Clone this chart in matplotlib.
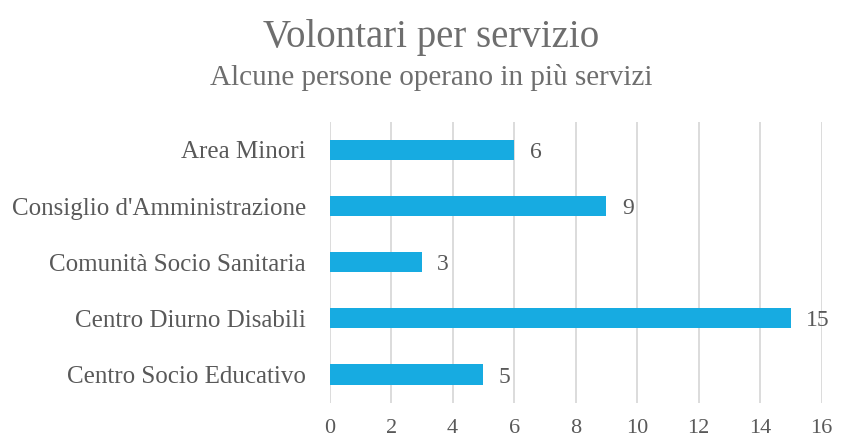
import matplotlib.pyplot as plt

# Data
categories = ["Centro Socio Educativo", "Centro Diurno Disabili",
              "Comunità Socio Sanitaria", "Consiglio d'Amministrazione",
              "Area Minori"]
volunteers = [5, 15, 3, 9, 6]
x_ticks = [0, 2, 4, 6, 8, 10, 12, 14, 16]

BAR_COLOR = "#17ABE1"
TEXT_COLOR = "#595959"
TITLE_COLOR = "#6E6E6E"
GRID_COLOR = "#D9D9D9"

plt.rcParams["font.family"] = ["Liberation Serif", "DejaVu Serif"]

fig = plt.figure(figsize=(8.41, 4.40), dpi=100)
ax = fig.add_axes([0.392, 0.085, 0.585, 0.638])

ypos = range(len(categories))
ax.barh(ypos, volunteers, height=0.36, color=BAR_COLOR, zorder=3)

for y, v in zip(ypos, volunteers):
    ax.text(v + 0.5, y, str(v), va="center_baseline", ha="left",
            fontsize=17, color=TEXT_COLOR)

ax.set_xlim(0, 16)
ax.set_ylim(-0.5, 4.5)
ax.set_xticks(x_ticks)
ax.set_xticklabels([str(t) for t in x_ticks], fontsize=16, color=TEXT_COLOR)
ax.set_yticks(list(ypos))
ax.set_yticklabels(categories, fontsize=18, color=TEXT_COLOR)
ax.tick_params(axis="both", length=0)
ax.tick_params(axis="y", pad=17)
ax.tick_params(axis="x", pad=12)

ax.grid(axis="x", color=GRID_COLOR, linewidth=1.3, zorder=0)
for side in ["top", "right", "bottom", "left"]:
    ax.spines[side].set_visible(False)

fig.text(0.513, 0.915, "Volontari per servizio", ha="center", va="center",
         fontsize=28, color=TITLE_COLOR)
fig.text(0.513, 0.825, "Alcune persone operano in più servizi", ha="center",
         va="center", fontsize=21, color=TITLE_COLOR)

fig.savefig("out.png", dpi=100)
